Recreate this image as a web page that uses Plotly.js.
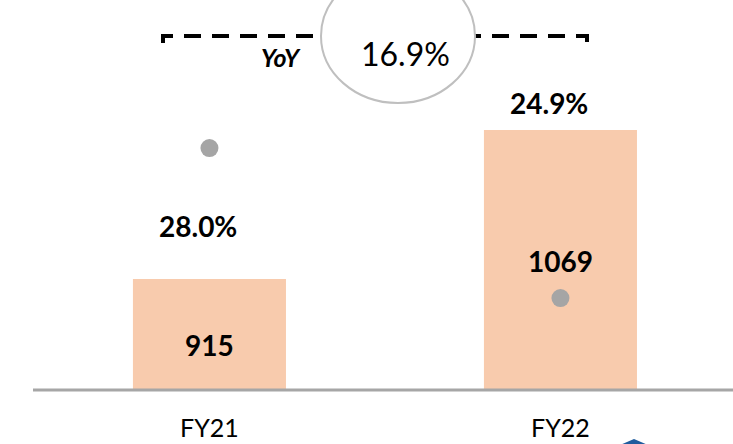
<!DOCTYPE html>
<html>
<head>
<meta charset="utf-8">
<script src="https://cdn.plot.ly/plotly-3.0.1.min.js"></script>
<style>html,body{margin:0;padding:0;background:#fff;}#chart{width:733px;height:444px;}</style>
</head>
<body>
<div id="chart"></div>
<script>
const categories = ["FY21", "FY22"];
const revenue = [915, 1069];
const margin = [28.0, 24.9];
const marginLabels = ["28.0%", "24.9%"];
const yoyLabel = "YoY";
const yoyValue = "16.9%";

const FONT = "Lato, 'Open Sans', sans-serif";

const traces = [
  {
    type: "bar",
    x: categories,
    y: revenue,
    marker: {color: "#F8CBAD"},
    width: 0.436,
    hoverinfo: "none",
    yaxis: "y"
  },
  {
    type: "scatter",
    mode: "markers",
    x: categories,
    y: margin,
    marker: {color: "#A5A5A5", size: 18},
    hoverinfo: "none",
    yaxis: "y2"
  }
];

function px(x) { return (x - 35) / 698; }
function py(y) { return (389 - y) / 389; }

// label vertical positions (pixel rows in the plot)
const barLabelRow = [345, 261];
const marginLabelRow = [226, 103];

const annotations = [];
categories.forEach((c, i) => {
  annotations.push({
    xref: "x", yref: "paper", x: c, y: py(barLabelRow[i]),
    xanchor: "center", yanchor: "middle",
    text: "<b>" + revenue[i] + "</b>", showarrow: false,
    font: {family: FONT, size: 28, color: "#000"}
  });
  annotations.push({
    xref: "x", yref: "paper", x: c, y: py(marginLabelRow[i]),
    xanchor: "center", yanchor: "middle", xshift: -11,
    text: "<b>" + marginLabels[i] + "</b>", showarrow: false,
    font: {family: FONT, size: 28, color: "#000"}
  });
});
annotations.push({
  xref: "paper", yref: "paper", x: px(281), y: py(57),
  xanchor: "center", yanchor: "middle",
  text: "<b><i>" + yoyLabel + "</i></b>", showarrow: false,
  font: {family: FONT, size: 25, color: "#000"}
});
annotations.push({
  xref: "paper", yref: "paper", x: px(405), y: py(53),
  xanchor: "center", yanchor: "middle",
  text: yoyValue, showarrow: false,
  font: {family: FONT, size: 32, color: "#000"}
});

const shapes = [
  {type: "path", xref: "paper", yref: "paper",
   path: `M ${px(163)} ${py(43)} L ${px(163)} ${py(36)} L ${px(330)} ${py(36)}`,
   line: {color: "#000", width: 4, dash: "17px,11px"}},
  {type: "path", xref: "paper", yref: "paper",
   path: `M ${px(587)} ${py(42)} L ${px(587)} ${py(36)} L ${px(462)} ${py(36)}`,
   line: {color: "#000", width: 4, dash: "17px,11px"}},
  {type: "circle", xref: "paper", yref: "paper",
   x0: px(321), x1: px(475), y0: py(103), y1: py(-31),
   fillcolor: "#fff", line: {color: "#BFBFBF", width: 2}},
  {type: "path", xref: "paper", yref: "paper",
   path: `M ${px(620)} ${py(445)} L ${px(634)} ${py(439)} L ${px(648)} ${py(445)} Z`,
   fillcolor: "#1F5C9E", line: {width: 0}},
  {type: "line", xref: "paper", yref: "paper", x0: px(33), x1: 1, y0: py(390), y1: py(390),
   line: {color: "#A6A6A6", width: 3}, layer: "above"}
];

const layout = {
  width: 733, height: 444,
  margin: {l: 35, r: 0, t: 0, b: 55, pad: 0},
  paper_bgcolor: "#fff", plot_bgcolor: "#fff",
  showlegend: false,
  xaxis: {
    type: "category",
    range: [-0.497, 1.4916],
    showgrid: false, zeroline: false,
    showline: false,
    ticks: "", ticklabelstandoff: 22,
    tickfont: {family: FONT, size: 25, color: "#000"},
    fixedrange: true
  },
  yaxis: {
    range: [801.3, 1203.4],
    visible: false, showgrid: false, zeroline: false, fixedrange: true
  },
  yaxis2: {
    range: [23.02, 31.06],
    overlaying: "y", side: "right",
    visible: false, showgrid: false, zeroline: false, fixedrange: true
  },
  annotations: annotations,
  shapes: shapes
};

Plotly.newPlot("chart", traces, layout, {displayModeBar: false, staticPlot: true});
</script>
</body>
</html>
